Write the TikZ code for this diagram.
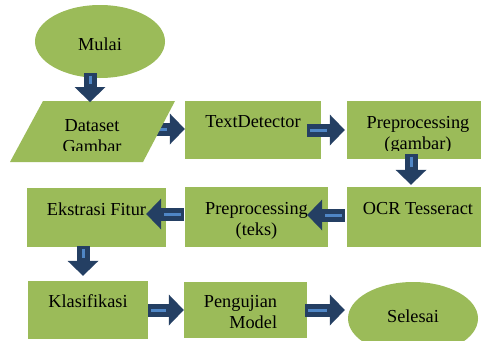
\documentclass[tikz,border=0pt]{standalone}
\usepackage{fontspec}
\setmainfont{Liberation Serif}
\newfontfamily\timesish{Liberation Serif}
\usetikzlibrary{arrows.meta,calc,shapes.geometric}
\definecolor{boxgreen}{HTML}{9BBB59}
\definecolor{arrnavy}{HTML}{243F63}
\definecolor{arrlight}{HTML}{4F86C6}
\newcommand{\twolines}[2]{\begin{tabular}[t]{@{}c@{}}#1\\#2\end{tabular}}
\begin{document}
\begin{tikzpicture}[x=1pt,y=-1pt,
  lbl/.style={font=\timesish\fontsize{18.3}{21}\selectfont, text=black},
  box/.style={lbl, rectangle, fill=boxgreen, inner sep=0pt, text height=12pt, text depth=17pt},
  oval/.style={lbl, ellipse, fill=boxgreen, inner sep=0pt, minimum width=130pt, minimum height=73pt},
  txt/.style={lbl, inner sep=0pt, anchor=base},
  barrow/.style={draw=arrnavy, line width=13pt, -{Triangle[length=15pt,width=31pt,line width=0pt]},
    postaction={draw=arrlight, line width=3pt, -, shorten <=3pt, shorten >=18pt}},
]
\useasboundingbox (0,0) rectangle (481,340);
\clip (0,0) rectangle (481,340);

\node[oval, text height=17pt, text depth=0pt] (mulai) at (100,41.5) {Mulai};
\node[box, minimum width=136pt, minimum height=58pt] (td) at (253,130) {TextDetector};
\node[box, minimum width=142pt, minimum height=58pt] (pg) at (418,130) {};
\node[box, minimum width=142pt, minimum height=60pt] (ocr) at (418,217) {OCR Tesseract};
\node[box, minimum width=143pt, minimum height=60pt] (pt) at (256.5,217) {\twolines{Preprocessing}{(teks)}};
\node[box, minimum width=139pt, minimum height=59pt] (ef) at (96.5,217.5) {Ekstrasi Fitur};
\node[box, minimum width=120pt, minimum height=58pt] (kl) at (88,310) {Klasifikasi};
\node[box, minimum width=123pt, minimum height=56pt] (pm) at (245.5,310) {\begin{tabular}[t]{@{}r@{\hspace{10pt}}}Pengujian\\Model\end{tabular}};
\node[oval, text height=11pt, text depth=4pt] (se) at (413,318.5) {Selesai};

\coordinate (dsw) at (10,162);
\coordinate (dne) at (175,101);
\draw[barrow] ($(dne)+(-25,28)$) -- ($(td.west)+(0,-1)$);
\fill[boxgreen] (dsw) -- ($(dsw)+(133,0)$) -- (dne) -- ($(dne)+(-132,0)$) -- cycle;
\begin{scope}
  \clip (0,0) rectangle (481,150);
  \node[txt] (data) at (92,131) {\twolines{Dataset}{Gambar}};
  \node[txt] (pgt) at (418,128) {\twolines{Preprocessing}{(gambar)}};
\end{scope}

\draw[barrow] ($(mulai.south)+(-10,-5)$) -- ($(dne)+(-85,1)$);
\draw[barrow] ($(td.east)+(-14,0)$) -- ($(pg.west)+(-2,0)$);
\draw[barrow] ($(pg.south)+(-7,-5)$) -- ($(ocr.north)+(-7,-2)$);
\draw[barrow] ($(ocr.west)+(-2,-2)$) -- ($(pt.east)+(-21,-2)$);
\draw[barrow] ($(pt.west)+(-1,-3)$) -- ($(ef.east)+(-20,-3.5)$);
\draw[barrow] ($(ef.south)+(-13.5,-1)$) -- ($(kl.north)+(-5,-5)$);
\draw[barrow] (kl.east) -- (pm.west);
\draw[barrow] ($(pm.east)+(-2,0)$) -- ($(se.west)+(-3,-8.5)$);
\end{tikzpicture}
\end{document}
